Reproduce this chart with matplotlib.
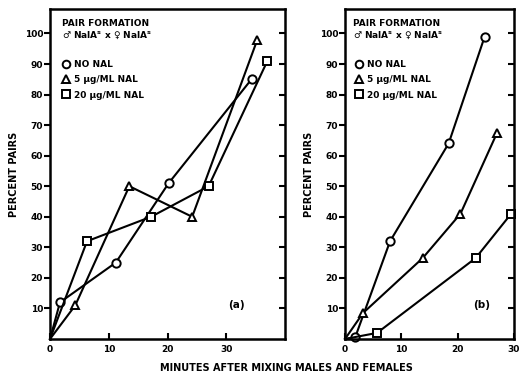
import matplotlib
matplotlib.use("Agg")
import matplotlib.pyplot as plt
from matplotlib.lines import Line2D

# Panel (a)
a_none_x = [0, 1.7, 11.2, 20.2, 34.3]
a_none_y = [0, 12, 25, 51, 85]
a_5_x = [0, 4.3, 13.5, 24.2, 35.3]
a_5_y = [0, 11, 50, 40, 98]
a_20_x = [0, 6.3, 17.2, 27.0, 37.0]
a_20_y = [0, 32, 40, 50, 91]

# Panel (b)
b_none_x = [0, 1.8, 8.0, 18.4, 24.8]
b_none_y = [0, 0.5, 32, 64, 99]
b_5_x = [0, 3.2, 13.8, 20.5, 27.0]
b_5_y = [0, 8.5, 26.5, 41, 67.5]
b_20_x = [0, 5.7, 23.2, 29.5]
b_20_y = [0, 2, 26.5, 41]

legend_labels = ["NO NAL", "5 \u03bcg/ML NAL", "20 \u03bcg/ML NAL"]
header1 = "PAIR FORMATION"
header2 = "\u2642 NalA$^{\\mathbf{s}}$ x \u2640 NalA$^{\\mathbf{s}}$"
xlabel = "MINUTES AFTER MIXING MALES AND FEMALES"
ylabel = "PERCENT PAIRS"

plt.rcParams['font.family'] = ['DejaVu Sans']
plt.rcParams['font.weight'] = 'bold'
plt.rcParams['mathtext.default'] = 'bf'

fig = plt.figure(figsize=(5.24, 3.76), dpi=100)
ax1 = fig.add_axes([50/524, 37/376, 235/524, 330/376])
ax2 = fig.add_axes([345/524, 37/376, 169/524, 330/376])

mk = dict(color='black', lw=1.5, markersize=6, markerfacecolor='white',
          markeredgecolor='black', markeredgewidth=1.4, clip_on=False)

def panel(ax, data, xmax, xticks, tag, tagx):
    (nx, ny), (fx, fy), (tx, ty) = data
    ax.plot(nx, ny, marker='o', markevery=list(range(1, len(nx))), **mk)
    ax.plot(fx, fy, marker='^', markevery=list(range(1, len(fx))), **mk)
    ax.plot(tx, ty, marker='s', markevery=list(range(1, len(tx))), **mk)
    ax.set_xlim(0, xmax)
    ax.set_ylim(0, 108)
    ax.set_xticks(xticks)
    ax.set_xticklabels([str(t) for t in xticks])
    yt = list(range(10, 101, 10))
    ax.set_yticks(yt)
    ax.set_yticklabels([str(t) for t in yt])
    ax.tick_params(axis='y', direction='out', length=4, width=1.5, labelsize=6.5,
                   right=True, pad=1)
    ax.tick_params(axis='x', direction='in', length=4, width=1.5, labelsize=6.5, pad=4)
    for s in ax.spines.values():
        s.set_linewidth(1.8)
    ax.set_ylabel(ylabel, fontsize=7, fontweight='bold', labelpad=4)
    ax.text(tagx, 11, tag, fontsize=7.5, fontweight='bold', ha='center', va='center')
    ax.text(0.05, 0.955, header1, transform=ax.transAxes, fontsize=6.5,
            fontweight='bold', ha='left', va='center')
    ax.text(0.05, 0.92, header2, transform=ax.transAxes, fontsize=6.5,
            fontweight='bold', ha='left', va='center')
    handles = [Line2D([], [], ls='none', marker=m, markersize=5.5,
                      markerfacecolor='white', markeredgecolor='black',
                      markeredgewidth=1.4) for m in ['o', '^', 's']]
    ax.legend(handles, legend_labels, loc='upper left',
              bbox_to_anchor=(0.025, 0.865), frameon=False,
              prop=dict(size=6.5, weight='bold'), handlelength=0.8,
              handletextpad=0.5, labelspacing=0.7, borderaxespad=0.3)

panel(ax1, [(a_none_x, a_none_y), (a_5_x, a_5_y), (a_20_x, a_20_y)],
      40, [0, 10, 20, 30], "(a)", 31.7)
panel(ax2, [(b_none_x, b_none_y), (b_5_x, b_5_y), (b_20_x, b_20_y)],
      30, [0, 10, 20, 30], "(b)", 24.2)
# y ticks on the right spine point inward
for ax in (ax1, ax2):
    for t in ax.yaxis.get_major_ticks():
        t.tick2line.set_marker(matplotlib.markers.TICKLEFT)
        t.tick2line.set_markersize(4)

fig.text(286/524, 1 - 368/376, xlabel, fontsize=7, fontweight='bold',
         ha='center', va='center')

fig.savefig("out.png", dpi=100)
